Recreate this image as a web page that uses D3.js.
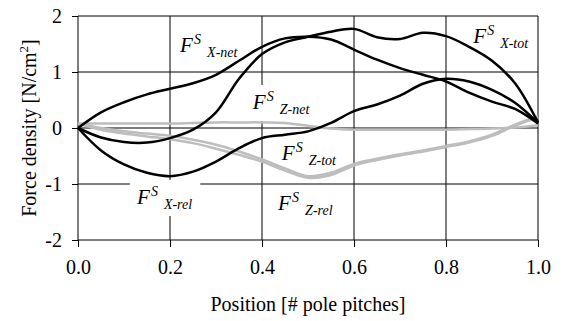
<!DOCTYPE html>
<html>
<head>
<meta charset="utf-8">
<script src="https://cdn.jsdelivr.net/npm/d3@7"></script>
<style>
  body { margin: 0; background: #fff; }
  svg text { font-family: "Liberation Serif", Tinos, "Times New Roman", Times, "DejaVu Serif", serif; }
</style>
</head>
<body>
<div id="chart"></div>
<script>
// Positions along the pole pitch
const positions = [0, 0.05, 0.1, 0.15, 0.2, 0.25, 0.3, 0.35, 0.4, 0.45, 0.5,
                   0.55, 0.6, 0.65, 0.7, 0.75, 0.8, 0.85, 0.9, 0.95, 1.0];

// Black curves
const xNet = [0, 0.28, 0.46, 0.6, 0.7, 0.8, 0.95, 1.2, 1.45, 1.6, 1.63,
              1.58, 1.4, 1.22, 1.07, 0.95, 0.83, 0.63, 0.47, 0.34, 0.08];
const xTot = [0, -0.17, -0.25, -0.26, -0.18, -0.03, 0.28, 0.88, 1.32, 1.53, 1.63,
              1.72, 1.77, 1.62, 1.59, 1.7, 1.64, 1.45, 1.2, 0.8, 0.1];
const xRel = [0, -0.4, -0.65, -0.8, -0.86, -0.78, -0.6, -0.36, -0.18, -0.12, -0.06,
              0.09, 0.3, 0.42, 0.58, 0.79, 0.88, 0.83, 0.68, 0.45, 0.09];

// Grey curves
const zNet = [0.08, 0.08, 0.08, 0.08, 0.08, 0.09, 0.1, 0.1, 0.1, 0.09, 0.04,
              -0.01, -0.03, -0.03, -0.03, -0.03, -0.03, -0.02, -0.01, 0.01, 0.05];
const zTot = [0.08, 0.0, -0.06, -0.1, -0.14, -0.21, -0.3, -0.42, -0.56, -0.72, -0.86,
              -0.8, -0.64, -0.55, -0.47, -0.4, -0.32, -0.24, -0.12, 0.06, 0.21];
const zRel = [0.08, -0.03, -0.1, -0.15, -0.2, -0.27, -0.37, -0.48, -0.6, -0.76, -0.89,
              -0.84, -0.67, -0.57, -0.49, -0.42, -0.34, -0.26, -0.14, 0.04, 0.19];

const xTicks = [0, 0.2, 0.4, 0.6, 0.8, 1.0];
const yTicks = [-2, -1, 0, 1, 2];

// Curve labels: F^S_sub, placed in data coordinates
const labelSubs = ["X-net", "X-tot", "Z-net", "Z-tot", "X-rel", "Z-rel"];
const labelX    = [0.222, 0.859, 0.38, 0.443, 0.128, 0.435];
const labelY    = [1.357, 1.518, 0.34, -0.571, -1.357, -1.464];
const labelBox  = [false, false, true, false, true, false];

const margin = { top: 16, right: 33, bottom: 81, left: 78 };
const width = 571 - margin.left - margin.right;
const height = 321 - margin.top - margin.bottom;

const svg = d3.select("#chart").append("svg")
    .attr("width", 571)
    .attr("height", 321)
    .append("g")
    .attr("transform", "translate(" + margin.left + "," + margin.top + ")");

const x = d3.scaleLinear().domain([0, 1]).range([0, width]);
const y = d3.scaleLinear().domain([-2, 2]).range([height, 0]);

// Gridlines
svg.append("g").selectAll("line")
    .data(yTicks)
    .join("line")
    .attr("x1", 0).attr("x2", width)
    .attr("y1", d => y(d)).attr("y2", d => y(d))
    .attr("stroke", "#000").attr("stroke-width", 1);

svg.append("g").selectAll("line")
    .data(xTicks)
    .join("line")
    .attr("x1", d => x(d)).attr("x2", d => x(d))
    .attr("y1", 0).attr("y2", height)
    .attr("stroke", "#000").attr("stroke-width", 1);

// Axes
const xAxis = svg.append("g")
    .attr("transform", "translate(0," + height + ")")
    .call(d3.axisBottom(x).tickValues(xTicks).tickFormat(d3.format(".1f")).tickSize(7).tickPadding(13));

const yAxis = svg.append("g")
    .call(d3.axisLeft(y).tickValues(yTicks).tickFormat(d => String(d)).tickSize(6).tickPadding(10));

[xAxis, yAxis].forEach(a => {
    a.attr("font-size", 20);
    a.select(".domain").remove();
    a.selectAll("line").attr("stroke", "#000");
    a.selectAll("text").attr("fill", "#000");
});

// Axis titles
svg.append("text")
    .attr("x", width / 2)
    .attr("y", height + 71)
    .attr("text-anchor", "middle")
    .style("font-size", "20px")
    .text("Position [# pole pitches]");

const yTitle = svg.append("text")
    .attr("transform", "translate(-42," + (height / 2) + ") rotate(-90)")
    .attr("text-anchor", "middle")
    .style("font-size", "20px");
yTitle.append("tspan").text("Force density [N/cm");
yTitle.append("tspan").attr("dy", -8).style("font-size", "13px").text("2");
yTitle.append("tspan").attr("dy", 8).text("]");

// Layers: label boxes under the curves, label text on top
const labelLayer = svg.append("g");
const curveLayer = svg.append("g");
const textLayer = svg.append("g");

const line = d3.line()
    .x((d, i) => x(positions[i]))
    .y(d => y(d))
    .curve(d3.curveCatmullRom.alpha(0.5));

const greyCurves = [zNet, zTot, zRel];
const blackCurves = [xNet, xTot, xRel];

greyCurves.forEach(s => {
    curveLayer.append("path")
        .attr("d", line(s))
        .attr("fill", "none")
        .attr("stroke", "#bdbdbd")
        .attr("stroke-width", 2.5);
});

blackCurves.forEach(s => {
    curveLayer.append("path")
        .attr("d", line(s))
        .attr("fill", "none")
        .attr("stroke", "#000")
        .attr("stroke-width", 2.5);
});

labelSubs.forEach((sub, i) => {
    const px = x(labelX[i]);
    const py = y(labelY[i]);
    const g = textLayer.append("g").style("font-style", "italic");
    g.append("text").attr("x", px).attr("y", py).style("font-size", "21px").text("F");
    g.append("text").attr("x", px + 14).attr("y", py - 8).style("font-size", "14px").text("S");
    g.append("text").attr("x", px + 27).attr("y", py + 5).style("font-size", "14px").text(sub);

    if (labelBox[i]) {
        const bb = g.node().getBBox();
        labelLayer.append("rect")
            .attr("x", bb.x - 6)
            .attr("y", bb.y - 4)
            .attr("width", bb.width + 14)
            .attr("height", bb.height + 8)
            .attr("fill", "#fff");
    }
});
</script>
</body>
</html>
